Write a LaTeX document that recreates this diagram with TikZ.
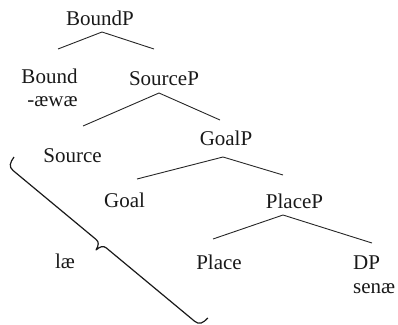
\documentclass[tikz,border=0pt]{standalone}
\usepackage{fontspec}
\setmainfont{Liberation Serif}
\begin{document}
\begin{tikzpicture}[x=1pt,y=-1pt,
  lbl/.style={font=\fontsize{21}{24}\selectfont, inner sep=0pt, anchor=base, text=black!90},
  lblw/.style={lbl, anchor=base west},
  edge/.style={draw=black!85, line width=0.9pt},
  bracepath/.style={draw=black!90, line width=1.2pt, line join=round}]
\useasboundingbox (0,0) rectangle (398,324);
% labels
\node[lbl] (boundp) at (100,25) {BoundP};
\node[lbl] (bound) at (49.5,83) {Bound};
\node[lbl] (awae) at (52.5,106) {-æwæ};
\node[lbl] (sourcep) at (164,85) {SourceP};
\node[lbl] (source) at (72.5,162) {Source};
\node[lbl] (goalp) at (226,145) {GoalP};
\node[lbl] (goal) at (124.5,207) {Goal};
\node[lbl] (placep) at (294.5,208) {PlaceP};
\node[lbl] (place) at (219,269) {Place};
\node[lblw] (dp) at (353,269) {DP};
\node[lblw] (senae) at (353,293) {senæ};
\node[lbl] (lae) at (65,268) {læ};
% branch points
\coordinate (b-top) at (102,32);
\coordinate (b-l) at (58,49);
\coordinate (b-r) at (154,49);
\coordinate (s-top) at (159,93);
\coordinate (s-l) at (83,126);
\coordinate (s-r) at (220,120);
\coordinate (g-top) at (223,157);
\coordinate (g-l) at (137,179);
\coordinate (g-r) at (283,175);
\coordinate (p-top) at (283,215);
\coordinate (p-l) at (213,239);
\coordinate (p-r) at (372,243);
\draw[edge] (b-l) -- (b-top) -- (b-r);
\draw[edge] (s-l) -- (s-top) -- (s-r);
\draw[edge] (g-l) -- (g-top) -- (g-r);
\draw[edge] (p-l) -- (p-top) -- (p-r);
% brace
\begin{scope}[shift={(14,157)}, rotate=-39.7]
\draw[bracepath] (0,0) .. controls (0.5,7) and (2,11) .. (8,11) -- (116,11)
  .. controls (120,11) and (121.5,14) .. (122.5,19)
  .. controls (123.5,14) and (125,11) .. (129,11) -- (244,11)
  .. controls (250,11) and (251.5,7) .. (252,0);
\end{scope}
\end{tikzpicture}
\end{document}
